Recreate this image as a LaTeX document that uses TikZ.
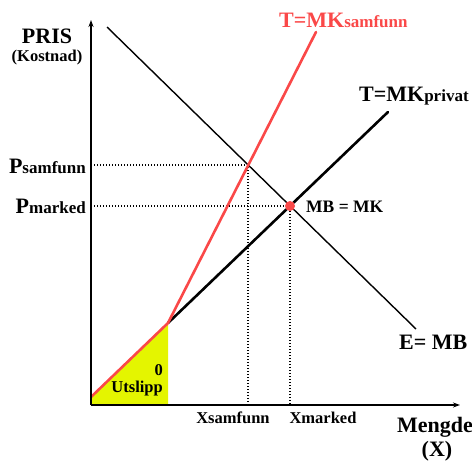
\documentclass[tikz,border=0pt]{standalone}
\usepackage{fontspec}
\setmainfont{Liberation Serif}
\usepackage{xcolor}
\usetikzlibrary{arrows.meta,positioning}
\definecolor{samred}{RGB}{250,72,72}
\definecolor{utslippgul}{RGB}{228,245,0}
\newcommand{\bigsmall}[2]{{\fontsize{22}{24}\selectfont #1}{\fontsize{17}{19}\selectfont #2}}
\begin{document}
\begin{tikzpicture}[
    x=1pt,y=-1pt,
    txt/.style={font=\bfseries\fontsize{16.5}{18}\selectfont,inner sep=0pt},
    bigtxt/.style={font=\bfseries\fontsize{22}{24}\selectfont,inner sep=0pt},
    axis/.style={-{Stealth[length=7pt,width=5pt]},line width=1.3pt},
    demand/.style={line width=1.4pt},
    privat/.style={line width=2.6pt,line cap=round},
    samfunn/.style={line width=2.6pt,samred,line cap=round},
    guide/.style={line width=1.3pt,dash pattern=on 1.3pt off 1.7pt}
  ]
    \useasboundingbox (0,0) rectangle (472,461);
    % points of the diagram
    \coordinate (origin) at (91,405);
    \coordinate (ytip) at (91,20);
    \coordinate (xtip) at (460,405);
    \coordinate (dstart) at (107,27);
    \coordinate (dend) at (416,329);
    \coordinate (rstart) at (91,397);
    \coordinate (kink) at (168,323);
    \coordinate (kinkfoot) at (168,405);
    \coordinate (rend) at (316,32);
    \coordinate (bend) at (388,112);
    \coordinate (ssam) at (248,165);
    \coordinate (smark) at (290,206);
    \coordinate (psam) at (91,165);
    \coordinate (pmark) at (91,206);
    \coordinate (xsam) at (248,405);
    \coordinate (xmark) at (290,405);

    % utslipp area
    \fill[utslippgul] (origin) -- (rstart) -- (kink) -- (kinkfoot) -- cycle;

    % guides
    \draw[guide] (psam) -- (ssam) -- (xsam);
    \draw[guide] (pmark) -- (smark) -- (xmark);

    % curves
    \draw[demand] (dstart) -- (dend);
    \draw[privat] (kink) -- (bend);
    \draw[samfunn] (rstart) -- (kink) -- (rend);
    \fill[samred] (smark) circle (5);

    % axes
    \draw[axis] (origin) -- (ytip);
    \draw[axis] (origin) -- (xtip);

    % labels
    \node[bigtxt,anchor=base] (pris) at (47,43) {PRIS};
    \node[txt,anchor=base] (kostnad) at (47,61) {(Kostnad)};
    \node[font=\bfseries,inner sep=0pt,anchor=base west,text=samred] (lsam) at (279,27) {\bigsmall{T=MK}{samfunn}};
    \node[font=\bfseries,inner sep=0pt,anchor=base west] (lpriv) at (359,101) {\bigsmall{T=MK}{privat}};
    \node[font=\bfseries,inner sep=0pt,anchor=base east] (lpsam) at (86,173) {\bigsmall{P}{samfunn}};
    \node[font=\bfseries,inner sep=0pt,anchor=base east] (lpmark) at (86,213) {\bigsmall{P}{marked}};
    \node[txt,font=\bfseries\fontsize{17.5}{19}\selectfont,anchor=base west] (likev) at (306,212) {MB = MK};
    \node[bigtxt,anchor=base west] (lmb) at (399,349) {E= MB};
    \node[txt,anchor=base] (lxsam) at (233,423) {Xsamfunn};
    \node[txt,anchor=base] (lxmark) at (323,423) {Xmarked};
    \node[bigtxt,anchor=base west] (mengde) at (397,432) {Mengde};
    \node[bigtxt,anchor=base] (xx) at (437,456) {(X)};
    \node[txt,anchor=base east] (null) at (163,375) {0};
    \node[txt,anchor=base east] (utslipp) at (163,392) {Utslipp};
  \end{tikzpicture}
\end{document}
